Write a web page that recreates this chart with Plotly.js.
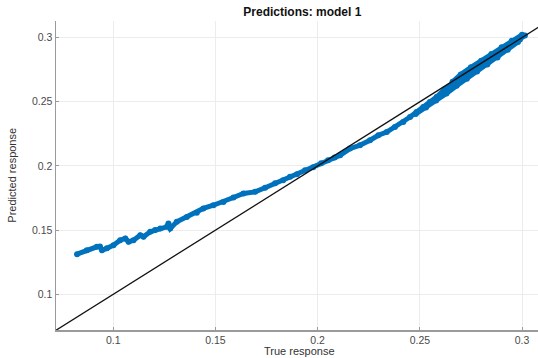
<!DOCTYPE html>
<html>
<head>
<meta charset="utf-8">
<script src="https://cdn.plot.ly/plotly-3.0.1.min.js"></script>
<style>html,body{margin:0;padding:0;background:#fff;}#chart{width:538px;height:358px;}</style>
</head>
<body>
<div id="chart"></div>
<script>
// Main prediction curve (true response vs predicted response)
const trueResp = [0.0823,0.0871,0.0920,0.0935,0.0945,0.0969,0.1001,0.1034,0.1059,0.1075,0.1099,0.1132,0.1148,0.1181,0.1205,0.1230,0.1262,0.1270,0.1279,0.1311,0.1360,0.1409,0.1441,0.1490,0.1539,0.1588,0.1637,0.1694,0.1743,0.1792,0.1831,0.1865,0.1899,0.1938,0.1978,0.2017,0.2051,0.2083,0.2110,0.2158,0.2207,0.2256,0.2297,0.2338,0.2378,0.2419,0.2452,0.2484,0.2517,0.2549,0.2582,0.2623,0.2663,0.2712,0.2753,0.2794,0.2835,0.2875,0.2916,0.2957,0.2990,0.3014];
const predResp = [0.1313,0.1344,0.1370,0.1372,0.1344,0.1358,0.1383,0.1422,0.1435,0.1409,0.1422,0.1461,0.1448,0.1487,0.1500,0.1513,0.1526,0.1552,0.1513,0.1565,0.1603,0.1635,0.1669,0.1694,0.1720,0.1754,0.1785,0.1798,0.1830,0.1865,0.1889,0.1916,0.1935,0.1967,0.1990,0.2021,0.2044,0.2065,0.2083,0.2135,0.2161,0.2200,0.2239,0.2264,0.2303,0.2342,0.2381,0.2420,0.2459,0.2498,0.2537,0.2600,0.2650,0.2705,0.2745,0.2783,0.2822,0.2861,0.2905,0.2952,0.2985,0.3016];
// Lower spread of points in the upper range
const trueLow = [0.2480,0.2530,0.2580,0.2630,0.2680,0.2730,0.2780,0.2830,0.2880,0.2930,0.2980];
const predLow = [0.2405,0.2455,0.2510,0.2565,0.2625,0.2680,0.2735,0.2790,0.2845,0.2905,0.2965];
// Upper spread of points in the upper range
const trueHigh = [0.2660,0.2700,0.2750,0.2800,0.2850,0.2900,0.2950,0.3000];
const predHigh = [0.2655,0.2712,0.2768,0.2820,0.2872,0.2925,0.2975,0.3022];
// Perfect-prediction reference line y = x
const refLine = [0.06, 0.32];
const xTicks = [0.1, 0.15, 0.2, 0.25, 0.3];
const yTicks = [0.1, 0.15, 0.2, 0.25, 0.3];

const FONT = 'Liberation Sans, Arial, sans-serif';
const blue = '#0072BD';
const pts = {mode:'lines+markers', line:{color:blue, width:5}, marker:{color:blue, size:6}, hoverinfo:'skip', showlegend:false};
const traces = [
  Object.assign({x:trueResp, y:predResp, type:'scatter'}, pts),
  Object.assign({x:trueLow, y:predLow, type:'scatter'}, pts),
  Object.assign({x:trueHigh, y:predHigh, type:'scatter'}, pts),
  {x:refLine, y:refLine, type:'scatter', mode:'lines', line:{color:'#111', width:1.3}, showlegend:false, hoverinfo:'skip'}
];
const axisCommon = {
  showgrid:true, gridcolor:'#ececec', gridwidth:1,
  zeroline:false, showline:true, linecolor:'#9a9a9a', linewidth:1.5,
  ticks:'inside', ticklen:3, tickcolor:'#9a9a9a',
  tickfont:{family:FONT, size:10.5, color:'#4a4a4a'},
  automargin:false, mirror:false
};
const layout = {
  width:538, height:358,
  margin:{l:56, r:0, t:21, b:28},
  paper_bgcolor:'#fff', plot_bgcolor:'#fff',
  title:{text:'<b>Predictions: model 1</b>', font:{family:FONT, size:12, color:'#111'}, x:0.562, xref:'container', y:0.966, yref:'container', yanchor:'middle', xanchor:'center'},
  xaxis:Object.assign({}, axisCommon, {range:[0.0720, 0.3078], tickvals:xTicks, ticktext:xTicks.map(String)}),
  yaxis:Object.assign({}, axisCommon, {range:[0.0722, 0.3129], tickvals:yTicks, ticktext:yTicks.map(String)}),
  annotations:[
    {text:'True response', xref:'paper', yref:'paper', x:0.505, y:-0.0906, xanchor:'center', yanchor:'bottom', borderpad:0, showarrow:false, font:{family:FONT, size:11, color:'#333'}},
    {text:'Predicted response', xref:'paper', yref:'paper', x:-0.093, y:0.5, xanchor:'center', yanchor:'middle', textangle:-90, showarrow:false, font:{family:FONT, size:11, color:'#333'}}
  ]
};
Plotly.newPlot('chart', traces, layout, {staticPlot:true, displayModeBar:false});
</script>
</body>
</html>
